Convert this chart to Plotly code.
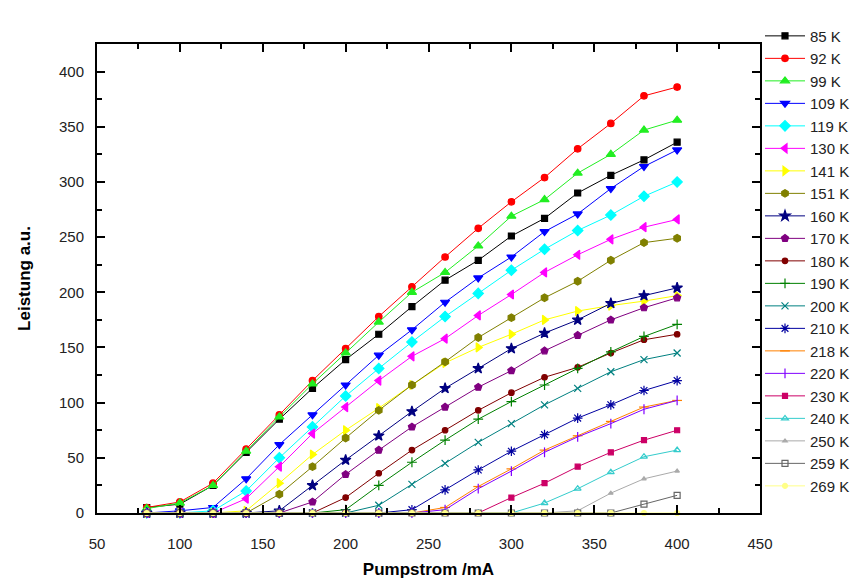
import plotly.graph_objects as go

pump_current = [80, 100, 120, 140, 160, 180, 200, 220, 240, 260, 280, 300, 320, 340, 360, 380, 400]

s85 = [5, 8, 25, 55, 85, 113, 139, 162, 187, 211, 229, 251, 267, 290, 306, 320, 336]
s92 = [5, 10, 27, 58, 89, 120, 149, 178, 205, 232, 258, 282, 304, 330, 353, 378, 386]
s99 = [4, 9, 25, 56, 87, 117, 145, 173, 200, 218, 242, 269, 284, 308, 325, 347, 356]
s109 = [0, 2, 5, 31, 62, 89, 116, 143, 166, 191, 213, 232, 255, 271, 294, 314, 329]
s119 = [0, 0, 2, 20, 50, 78, 106, 131, 155, 178, 199, 220, 239, 256, 270, 287, 300]
s130 = [0, 0, 0, 13, 42, 72, 96, 120, 142, 158, 179, 198, 218, 234, 248, 259, 266]
s141 = [0, 0, 0, 2, 27, 53, 75, 95, 116, 136, 150, 162, 175, 183, 188, 192, 197]
s151 = [0, 0, 0, 0, 17, 42, 68, 93, 116, 137, 159, 177, 195, 210, 229, 245, 249]
s160 = [0, 0, 0, 0, 2, 25, 48, 70, 92, 113, 131, 149, 163, 175, 190, 197, 204]
s170 = [0, 0, 0, 0, 0, 10, 35, 57, 78, 96, 114, 129, 147, 161, 175, 186, 195]
s180 = [0, 0, 0, 0, 0, 0, 14, 36, 57, 75, 93, 109, 123, 132, 145, 157, 162]
s190 = [0, 0, 0, 0, 0, 0, 3, 25, 46, 66, 85, 101, 116, 131, 146, 160, 171]
s200 = [0, 0, 0, 0, 0, 0, 0, 7, 26, 45, 64, 81, 98, 113, 128, 139, 145]
s210 = [0, 0, 0, 0, 0, 0, 0, 0, 3, 21, 39, 56, 71, 86, 98, 111, 120]
s218 = [0, 0, 0, 0, 0, 0, 0, 0, 0, 5, 24, 40, 57, 70, 83, 96, 102]
s220 = [0, 0, 0, 0, 0, 0, 0, 0, 0, 3, 22, 38, 55, 69, 81, 94, 102]
s230 = [0, 0, 0, 0, 0, 0, 0, 0, 0, 0, 0, 14, 27, 42, 55, 66, 75]
s240 = [0, 0, 0, 0, 0, 0, 0, 0, 0, 0, 0, 0, 9, 22, 37, 51, 57]
s250 = [0, 0, 0, 0, 0, 0, 0, 0, 0, 0, 0, 0, 0, 2, 18, 31, 38]
s259 = [0, 0, 0, 0, 0, 0, 0, 0, 0, 0, 0, 0, 0, 0, 0, 8, 16]
s269 = [0, 0, 0, 0, 0, 0, 0, 0, 0, 0, 0, 0, 0, 0, 0, 0, 0]

series_names = ["85 K", "92 K", "99 K", "109 K", "119 K", "130 K", "141 K", "151 K",
                "160 K", "170 K", "180 K", "190 K", "200 K", "210 K", "218 K", "220 K",
                "230 K", "240 K", "250 K", "259 K", "269 K"]
series_values = [s85, s92, s99, s109, s119, s130, s141, s151, s160, s170, s180, s190,
                 s200, s210, s218, s220, s230, s240, s250, s259, s269]

styles = [
    ("#000000", "square", 6),
    ("#FF0000", "circle", 6.5),
    ("#22EE22", "triangle-up", 8),
    ("#0000FF", "triangle-down", 8),
    ("#00FFFF", "diamond", 8),
    ("#FF00FF", "triangle-left", 8),
    ("#FFFF00", "triangle-right", 8),
    ("#808000", "hexagon", 7.5),
    ("#000080", "star", 8),
    ("#800080", "pentagon", 7.5),
    ("#800000", "circle", 5.5),
    ("#008000", "cross-thin-open", 7),
    ("#008080", "x-thin-open", 7),
    ("#0000A0", "asterisk-open", 8),
    ("#FF8000", "line-ew-open", 7),
    ("#8000FF", "line-ns-open", 7),
    ("#CC0066", "square", 5),
    ("#33CCCC", "triangle-up-open", 6),
    ("#AAAAAA", "triangle-up", 4),
    ("#666666", "square-open", 6),
    ("#FFFF88", "circle", 5),
]

fig = go.Figure()
for name, vals, (col, sym, sz) in zip(series_names, series_values, styles):
    fig.add_trace(go.Scatter(
        x=pump_current, y=vals, name=name, mode="lines+markers",
        line=dict(color=col, width=1),
        marker=dict(color=col, symbol=sym, size=sz, line=dict(color=col, width=1.2)),
        cliponaxis=False, legendgroup=name,
    ))

axis_font = dict(family="Liberation Sans, Arial, sans-serif", size=15, color="#222222")
title_font = dict(family="Liberation Sans, Arial, sans-serif", size=17, color="#000000")

fig.update_layout(
    width=859, height=579,
    paper_bgcolor="white", plot_bgcolor="white",
    margin=dict(l=89, r=105, t=24, b=74),
    font=dict(family="Liberation Sans, Arial, sans-serif"),
    xaxis=dict(
        range=[50, 450], dtick=50, tick0=50,
        showline=True, linecolor="black", linewidth=2, mirror="ticks",
        ticks="inside", ticklen=8, tickwidth=2, tickcolor="black",
        minor=dict(ticks="inside", ticklen=5, tickwidth=2, tickcolor="black", dtick=25),
        showgrid=False, zeroline=False, tickfont=axis_font, ticklabelstandoff=16,
        title=dict(text="<b>Pumpstrom /mA</b>", font=title_font, standoff=12),
    ),
    yaxis=dict(
        range=[0, 425], dtick=50, tick0=0,
        showline=True, linecolor="black", linewidth=2, mirror="ticks",
        ticks="inside", ticklen=8, tickwidth=2, tickcolor="black",
        minor=dict(ticks="inside", ticklen=5, tickwidth=2, tickcolor="black", dtick=25),
        showgrid=False, zeroline=False, tickfont=axis_font, ticklabelstandoff=8,
        title=dict(text="<b>Leistung a.u.</b>", font=title_font, standoff=24),
    ),
    legend=dict(
        x=1.0, xanchor="left", y=1.052, yanchor="top",
        font=dict(family="Liberation Sans, Arial, sans-serif", size=15, color="#222222"),
        bgcolor="rgba(0,0,0,0)", borderwidth=0, tracegroupgap=0, itemwidth=40,
        maxheight=570,
    ),
    showlegend=True,
)

fig.write_html("out.html")
